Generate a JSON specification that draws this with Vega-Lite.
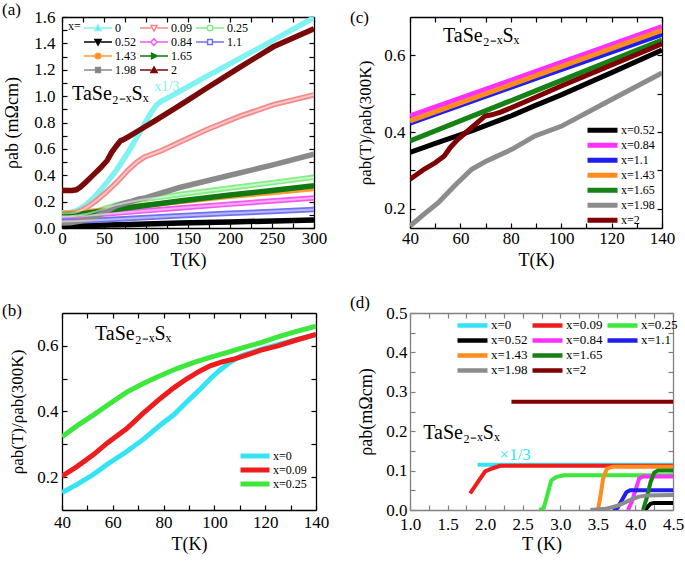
{
"$schema": "https://vega.github.io/schema/vega-lite/v6.json",
"padding": {"left": 2, "top": 1, "right": 2, "bottom": 2},
"background": "white",
"bounds": "flush",
"columns": 2,
"spacing": {"row": 85, "column": 94},
"resolve": {"scale": {"color": "independent"}, "legend": {"color": "independent"}},
"config": {
  "font": "Liberation Serif",
  "view": {"stroke": null},
  "axis": {"labelFont": "Liberation Serif", "titleFont": "Liberation Serif", "labelFontSize": 17, "titleFontSize": 18, "titleFontWeight": "normal", "labelColor": "#000", "titleColor": "#000", "domainColor": "#000", "tickColor": "#000", "domainWidth": 1.3, "tickWidth": 1.2, "tickSize": -5, "grid": false, "labelFlush": false, "labelOverlap": false, "labelBound": false, "zindex": 1},
  "legend": {"labelFont": "Liberation Serif", "labelColor": "#000", "titleFont": "Liberation Serif", "titleColor": "#000", "padding": 0, "offset": 0},
  "text": {"font": "Liberation Serif"},
  "title": {"font": "Liberation Serif", "fontWeight": "normal", "fontSize": 17, "color": "#000"}
},
"datasets": {
  "a": [
    {"s":"0","T":0,"r":0.115},{"s":"0","T":10,"r":0.118},{"s":"0","T":15,"r":0.125},{"s":"0","T":20,"r":0.14},{"s":"0","T":25,"r":0.16},{"s":"0","T":30,"r":0.185},{"s":"0","T":35,"r":0.213},{"s":"0","T":40,"r":0.245},{"s":"0","T":52,"r":0.333},{"s":"0","T":65.5,"r":0.445},{"s":"0","T":78.6,"r":0.573},{"s":"0","T":89,"r":0.685},{"s":"0","T":98.3,"r":0.79},{"s":"0","T":106,"r":0.875},{"s":"0","T":112,"r":0.93},{"s":"0","T":118,"r":0.96},{"s":"0","T":130,"r":1.0},{"s":"0","T":172,"r":1.15},{"s":"0","T":231.7,"r":1.355},{"s":"0","T":300,"r":1.595},
    {"s":"0.09","T":0,"r":0.112},{"s":"0.09","T":10,"r":0.113},{"s":"0.09","T":15,"r":0.115},{"s":"0.09","T":20,"r":0.125},{"s":"0.09","T":25,"r":0.14},{"s":"0.09","T":30,"r":0.158},{"s":"0.09","T":35,"r":0.18},{"s":"0.09","T":40,"r":0.203},{"s":"0.09","T":52,"r":0.268},{"s":"0.09","T":65.5,"r":0.348},{"s":"0.09","T":78.6,"r":0.439},{"s":"0.09","T":89,"r":0.499},{"s":"0.09","T":98.3,"r":0.539},{"s":"0.09","T":107,"r":0.559},{"s":"0.09","T":118,"r":0.586},{"s":"0.09","T":132,"r":0.627},{"s":"0.09","T":150,"r":0.68},{"s":"0.09","T":172,"r":0.745},{"s":"0.09","T":212,"r":0.848},{"s":"0.09","T":252,"r":0.935},{"s":"0.09","T":300,"r":1.01},
    {"s":"0.25","T":0,"r":0.088},{"s":"0.25","T":10,"r":0.09},{"s":"0.25","T":20,"r":0.097},{"s":"0.25","T":30,"r":0.108},{"s":"0.25","T":40,"r":0.124},{"s":"0.25","T":52,"r":0.15},{"s":"0.25","T":65.5,"r":0.177},{"s":"0.25","T":78.6,"r":0.196},{"s":"0.25","T":91.7,"r":0.211},{"s":"0.25","T":104.8,"r":0.223},{"s":"0.25","T":118,"r":0.234},{"s":"0.25","T":140,"r":0.254},{"s":"0.25","T":200,"r":0.303},{"s":"0.25","T":250,"r":0.344},{"s":"0.25","T":300,"r":0.385},
    {"s":"0.52","T":0,"r":0.018},{"s":"0.52","T":20,"r":0.019},{"s":"0.52","T":40,"r":0.021},{"s":"0.52","T":80,"r":0.027},{"s":"0.52","T":140,"r":0.037},{"s":"0.52","T":200,"r":0.046},{"s":"0.52","T":300,"r":0.06},
    {"s":"0.84","T":0,"r":0.085},{"s":"0.84","T":20,"r":0.09},{"s":"0.84","T":40,"r":0.0995},{"s":"0.84","T":90,"r":0.126},{"s":"0.84","T":140,"r":0.152},{"s":"0.84","T":200,"r":0.181},{"s":"0.84","T":250,"r":0.205},{"s":"0.84","T":300,"r":0.228},
    {"s":"1.1","T":0,"r":0.05},{"s":"1.1","T":20,"r":0.053},{"s":"1.1","T":40,"r":0.059},{"s":"1.1","T":90,"r":0.076},{"s":"1.1","T":140,"r":0.092},{"s":"1.1","T":200,"r":0.111},{"s":"1.1","T":250,"r":0.126},{"s":"1.1","T":300,"r":0.14},
    {"s":"1.43","T":0,"r":0.11},{"s":"1.43","T":20,"r":0.115},{"s":"1.43","T":40,"r":0.129},{"s":"1.43","T":90,"r":0.165},{"s":"1.43","T":140,"r":0.2},{"s":"1.43","T":200,"r":0.24},{"s":"1.43","T":250,"r":0.27},{"s":"1.43","T":300,"r":0.3},
    {"s":"1.65","T":0,"r":0.1},{"s":"1.65","T":20,"r":0.105},{"s":"1.65","T":40,"r":0.121},{"s":"1.65","T":90,"r":0.163},{"s":"1.65","T":140,"r":0.205},{"s":"1.65","T":200,"r":0.25},{"s":"1.65","T":250,"r":0.285},{"s":"1.65","T":300,"r":0.32},
    {"s":"1.98","T":0,"r":0.038},{"s":"1.98","T":10,"r":0.04},{"s":"1.98","T":20,"r":0.05},{"s":"1.98","T":30,"r":0.065},{"s":"1.98","T":40,"r":0.086},{"s":"1.98","T":51,"r":0.12},{"s":"1.98","T":64.5,"r":0.168},{"s":"1.98","T":70.4,"r":0.18},{"s":"1.98","T":80.4,"r":0.197},{"s":"1.98","T":89.6,"r":0.216},{"s":"1.98","T":100,"r":0.23},{"s":"1.98","T":140,"r":0.307},{"s":"1.98","T":200,"r":0.4},{"s":"1.98","T":250,"r":0.477},{"s":"1.98","T":300,"r":0.56},
    {"s":"2","T":0,"r":0.285},{"s":"2","T":12,"r":0.285},{"s":"2","T":17,"r":0.29},{"s":"2","T":22,"r":0.31},{"s":"2","T":27,"r":0.34},{"s":"2","T":32,"r":0.37},{"s":"2","T":36,"r":0.395},{"s":"2","T":40,"r":0.42},{"s":"2","T":45.6,"r":0.455},{"s":"2","T":53.6,"r":0.51},{"s":"2","T":59,"r":0.572},{"s":"2","T":64.5,"r":0.62},{"s":"2","T":69.8,"r":0.663},{"s":"2","T":72.4,"r":0.668},{"s":"2","T":80.4,"r":0.697},{"s":"2","T":92.9,"r":0.745},{"s":"2","T":110,"r":0.81},{"s":"2","T":132.5,"r":0.9},{"s":"2","T":150,"r":0.97},{"s":"2","T":172,"r":1.06},{"s":"2","T":212,"r":1.22},{"s":"2","T":251.6,"r":1.374},{"s":"2","T":300,"r":1.51}
  ],
  "b": [
    {"s":"x=0","T":40,"r":0.153},{"s":"x=0","T":46,"r":0.178},{"s":"x=0","T":52.3,"r":0.208},{"s":"x=0","T":58,"r":0.24},{"s":"x=0","T":65.5,"r":0.278},{"s":"x=0","T":72,"r":0.315},{"s":"x=0","T":78.6,"r":0.358},{"s":"x=0","T":84,"r":0.39},{"s":"x=0","T":89,"r":0.428},{"s":"x=0","T":94,"r":0.465},{"s":"x=0","T":98.3,"r":0.499},{"s":"x=0","T":102,"r":0.525},{"s":"x=0","T":106,"r":0.549},{"s":"x=0","T":109,"r":0.563},{"s":"x=0","T":111.4,"r":0.572},{"s":"x=0","T":120,"r":0.593},{"s":"x=0","T":130,"r":0.614},{"s":"x=0","T":140,"r":0.634},
    {"s":"x=0.09","T":40,"r":0.203},{"s":"x=0.09","T":46,"r":0.233},{"s":"x=0.09","T":52.3,"r":0.268},{"s":"x=0.09","T":58,"r":0.305},{"s":"x=0.09","T":65.5,"r":0.348},{"s":"x=0.09","T":72,"r":0.395},{"s":"x=0.09","T":78.6,"r":0.439},{"s":"x=0.09","T":84,"r":0.472},{"s":"x=0.09","T":89,"r":0.499},{"s":"x=0.09","T":94,"r":0.522},{"s":"x=0.09","T":98.3,"r":0.539},{"s":"x=0.09","T":103,"r":0.551},{"s":"x=0.09","T":107.4,"r":0.559},{"s":"x=0.09","T":112,"r":0.57},{"s":"x=0.09","T":118,"r":0.586},{"s":"x=0.09","T":125,"r":0.6},{"s":"x=0.09","T":132,"r":0.617},{"s":"x=0.09","T":140,"r":0.635},
    {"s":"x=0.25","T":40,"r":0.323},{"s":"x=0.25","T":46,"r":0.357},{"s":"x=0.25","T":52.3,"r":0.389},{"s":"x=0.25","T":58,"r":0.42},{"s":"x=0.25","T":65.5,"r":0.459},{"s":"x=0.25","T":72,"r":0.485},{"s":"x=0.25","T":78.6,"r":0.509},{"s":"x=0.25","T":85,"r":0.53},{"s":"x=0.25","T":91.7,"r":0.549},{"s":"x=0.25","T":98,"r":0.564},{"s":"x=0.25","T":104.8,"r":0.579},{"s":"x=0.25","T":111,"r":0.594},{"s":"x=0.25","T":118,"r":0.609},{"s":"x=0.25","T":125,"r":0.627},{"s":"x=0.25","T":132,"r":0.643},{"s":"x=0.25","T":140,"r":0.66}
  ],
  "c": [
    {"s":"x=0.52","T":40,"r":0.347},{"s":"x=0.52","T":51.2,"r":0.373},{"s":"x=0.52","T":64.5,"r":0.403},{"s":"x=0.52","T":80.4,"r":0.443},{"s":"x=0.52","T":89.6,"r":0.469},{"s":"x=0.52","T":100,"r":0.497},{"s":"x=0.52","T":120,"r":0.555},{"s":"x=0.52","T":140,"r":0.614},
    {"s":"x=0.84","T":40,"r":0.442},{"s":"x=0.84","T":90,"r":0.558},{"s":"x=0.84","T":140,"r":0.675},
    {"s":"x=1.1","T":40,"r":0.423},{"s":"x=1.1","T":90,"r":0.54},{"s":"x=1.1","T":140,"r":0.655},
    {"s":"x=1.43","T":40,"r":0.429},{"s":"x=1.43","T":90,"r":0.547},{"s":"x=1.43","T":140,"r":0.665},
    {"s":"x=1.65","T":40,"r":0.377},{"s":"x=1.65","T":90,"r":0.508},{"s":"x=1.65","T":140,"r":0.64},
    {"s":"x=1.98","T":40,"r":0.155},{"s":"x=1.98","T":45,"r":0.183},{"s":"x=1.98","T":51.2,"r":0.216},{"s":"x=1.98","T":58,"r":0.262},{"s":"x=1.98","T":64.5,"r":0.303},{"s":"x=1.98","T":70.4,"r":0.325},{"s":"x=1.98","T":80.4,"r":0.355},{"s":"x=1.98","T":89.6,"r":0.39},{"s":"x=1.98","T":100,"r":0.415},{"s":"x=1.98","T":120,"r":0.485},{"s":"x=1.98","T":140,"r":0.554},
    {"s":"x=2","T":40,"r":0.277},{"s":"x=2","T":45.6,"r":0.303},{"s":"x=2","T":50,"r":0.32},{"s":"x=2","T":53.6,"r":0.338},{"s":"x=2","T":56,"r":0.36},{"s":"x=2","T":59,"r":0.381},{"s":"x=2","T":64.5,"r":0.412},{"s":"x=2","T":69.8,"r":0.442},{"s":"x=2","T":72.4,"r":0.445},{"s":"x=2","T":76,"r":0.452},{"s":"x=2","T":80.4,"r":0.464},{"s":"x=2","T":89.6,"r":0.49},{"s":"x=2","T":100,"r":0.52},{"s":"x=2","T":120,"r":0.575},{"s":"x=2","T":140,"r":0.63}
  ],
  "d": [
    {"s":"x=0","T":1.9,"r":0.115},{"s":"x=0","T":4.5,"r":0.115},
    {"s":"x=0.09","T":1.8,"r":0.042},{"s":"x=0.09","T":1.9,"r":0.07},{"s":"x=0.09","T":2.0,"r":0.098},{"s":"x=0.09","T":2.1,"r":0.106},{"s":"x=0.09","T":2.2,"r":0.112},{"s":"x=0.09","T":4.5,"r":0.112},
    {"s":"x=0.25","T":2.72,"r":0.0},{"s":"x=0.25","T":2.78,"r":0.005},{"s":"x=0.25","T":2.83,"r":0.04},{"s":"x=0.25","T":2.88,"r":0.075},{"s":"x=0.25","T":2.95,"r":0.084},{"s":"x=0.25","T":3.05,"r":0.088},{"s":"x=0.25","T":4.5,"r":0.088},
    {"s":"x=0.52","T":4.1,"r":0.0},{"s":"x=0.52","T":4.15,"r":0.005},{"s":"x=0.52","T":4.2,"r":0.016},{"s":"x=0.52","T":4.25,"r":0.018},{"s":"x=0.52","T":4.5,"r":0.018},
    {"s":"x=0.84","T":3.9,"r":0.0},{"s":"x=0.84","T":3.95,"r":0.02},{"s":"x=0.84","T":4.0,"r":0.05},{"s":"x=0.84","T":4.05,"r":0.08},{"s":"x=0.84","T":4.1,"r":0.085},{"s":"x=0.84","T":4.5,"r":0.085},
    {"s":"x=1.1","T":3.7,"r":0.0},{"s":"x=1.1","T":3.76,"r":0.005},{"s":"x=1.1","T":3.82,"r":0.025},{"s":"x=1.1","T":3.88,"r":0.045},{"s":"x=1.1","T":3.93,"r":0.05},{"s":"x=1.1","T":4.5,"r":0.05},
    {"s":"x=1.43","T":3.45,"r":0.0},{"s":"x=1.43","T":3.5,"r":0.0},{"s":"x=1.43","T":3.53,"r":0.03},{"s":"x=1.43","T":3.57,"r":0.08},{"s":"x=1.43","T":3.62,"r":0.105},{"s":"x=1.43","T":3.7,"r":0.11},{"s":"x=1.43","T":4.5,"r":0.11},
    {"s":"x=1.65","T":4.1,"r":0.0},{"s":"x=1.65","T":4.15,"r":0.03},{"s":"x=1.65","T":4.2,"r":0.07},{"s":"x=1.65","T":4.25,"r":0.095},{"s":"x=1.65","T":4.3,"r":0.1},{"s":"x=1.65","T":4.5,"r":0.1},
    {"s":"x=1.98","T":3.4,"r":0.0},{"s":"x=1.98","T":3.6,"r":0.003},{"s":"x=1.98","T":3.75,"r":0.01},{"s":"x=1.98","T":3.85,"r":0.018},{"s":"x=1.98","T":3.95,"r":0.027},{"s":"x=1.98","T":4.05,"r":0.034},{"s":"x=1.98","T":4.15,"r":0.037},{"s":"x=1.98","T":4.5,"r":0.038},
    {"s":"x=2","T":2.35,"r":0.275},{"s":"x=2","T":4.5,"r":0.275}
  ]
},
"concat": [
  {
   "width": 252, "height": 211,
   "title": {"text": "(a)", "anchor": "start", "frame": "group", "dx": -60, "offset": -24, "baseline": "alphabetic"},
   "layer": [
    {"data": {"name": "a"},
     "mark": {"type": "line", "strokeWidth": 5.5, "clip": true},
     "encoding": {
      "x": {"field": "T", "type": "quantitative", "scale": {"domain": [0, 300], "nice": false, "zero": false},
            "axis": {"orient": "bottom", "title": "T(K)", "values": [0,25,50,75,100,125,150,175,200,225,250,275,300], "labelExpr": "datum.value % 50 == 0 ? datum.label : ''", "labelPadding": 7, "titlePadding": 5}},
      "y": {"field": "r", "type": "quantitative", "scale": {"domain": [0, 1.6], "nice": false, "zero": false},
            "axis": {"orient": "left", "title": "ρab (mΩcm)", "values": [0,0.1,0.2,0.3,0.4,0.5,0.6,0.7,0.8,0.9,1.0,1.1,1.2,1.3,1.4,1.5,1.6], "format": ".1f", "labelExpr": "round(datum.value*10) % 2 == 0 ? datum.label : ''", "labelPadding": 12, "titlePadding": 12}},
      "color": {"field": "s", "type": "nominal",
        "scale": {"domain": ["0","0.09","0.25","0.52","0.84","1.1","1.43","1.65"," ","1.98","2"], "range": ["#80F2F2","#F28A8A","#86EE86","#000000","#F05AF0","#7070F0","#FF9A3A","#107A10","transparent","#8A8A8A","#7A0A0A"]},
        "legend": {"orient": "none", "legendX": 6, "legendY": 4, "direction": "horizontal", "title": "x=", "titleOrient": "left", "titleAnchor": "start", "titleBaseline": "top", "titleFontSize": 12, "titleFontWeight": "normal", "titlePadding": 2,
          "columns": 3, "gridAlign": "none", "columnPadding": 3, "rowPadding": 0, "clipHeight": 14, "labelFontSize": 12, "labelOffset": 2, "symbolSize": 784, "symbolStrokeWidth": 1.5,
          "encoding": {"symbols": {
            "shape": {"value": {"signal": "['M-1,0H-0.2M0.2,0H1M0,-0.22L0.22,0.17L-0.22,0.17Z','M-1,0H-0.2M0.2,0H1M0,0.22L0.22,-0.17L-0.22,-0.17Z','M-1,0H-0.2M0.2,0H1M0.2,0A0.2,0.2,0,1,1,-0.2,0A0.2,0.2,0,1,1,0.2,0Z','M-1,0H-0.2M0.2,0H1M0,0.22L0.22,-0.17L-0.22,-0.17Z','M-1,0H-0.22M0.22,0H1M0,-0.24L0.22,0L0,0.24L-0.22,0Z','M-1,0H-0.17M0.17,0H1M-0.17,-0.17H0.17V0.17H-0.17Z','M-1,0H-0.2M0.2,0H1M0.2,0A0.2,0.2,0,1,1,-0.2,0A0.2,0.2,0,1,1,0.2,0Z','M-1,0H-0.17M0.22,0H1M0.22,0L-0.17,-0.2L-0.17,0.2Z','M-1,0H1','M-1,0H-0.17M0.17,0H1M-0.17,-0.17H0.17V0.17H-0.17Z','M-1,0H-0.2M0.2,0H1M0,-0.22L0.22,0.17L-0.22,0.17Z'][datum.index]"}},
            "fill": {"value": {"signal": "['#60F0F0','#ffffff','#ffffff','#000000','#ffffff','#ffffff','#FF8A1A','#108010','transparent','#808080','#800000'][datum.index]"}},
            "stroke": {"value": {"signal": "['#60F0F0','#FF2020','#22DD22','#000000','#FF22FF','#1010DD','#FF8A1A','#108010','transparent','#808080','#800000'][datum.index]"}},
            "strokeWidth": {"value": 1.5},
            "opacity": {"value": 1}
          }}
        }}
     }},
    {"data": {"name": "a"},
     "transform": [{"filter": {"field": "s", "oneOf": ["0.09","0.25","0.84","1.1"]}}],
     "mark": {"type": "line", "strokeWidth": 2, "color": "#ffffff", "opacity": 0.5, "clip": true},
     "encoding": {
      "x": {"field": "T", "type": "quantitative", "axis": {"orient": "top", "title": null, "labels": false, "values": [0,25,50,75,100,125,150,175,200,225,250,275,300]}},
      "y": {"field": "r", "type": "quantitative", "axis": {"orient": "right", "title": null, "labels": false, "values": [0,0.1,0.2,0.3,0.4,0.5,0.6,0.7,0.8,0.9,1.0,1.1,1.2,1.3,1.4,1.5,1.6]}},
      "detail": {"field": "s", "type": "nominal"}
     }},
    {"data": {"values": [{"T": 12, "r": 0.968, "t": "TaSe₂₋ₓSₓ"}]},
     "mark": {"type": "text", "align": "left", "baseline": "alphabetic", "fontSize": 20, "color": "#000"},
     "encoding": {"x": {"field": "T", "type": "quantitative", "axis": null}, "y": {"field": "r", "type": "quantitative", "axis": null}, "text": {"field": "t"}}},
    {"data": {"values": [{"T": 125, "r": 1.04, "t": "x1/3"}]},
     "mark": {"type": "text", "align": "center", "baseline": "alphabetic", "fontSize": 14, "color": "#7FEFEF"},
     "encoding": {"x": {"field": "T", "type": "quantitative", "axis": null}, "y": {"field": "r", "type": "quantitative", "axis": null}, "text": {"field": "t"}}}
   ],
   "resolve": {"axis": {"x": "independent", "y": "independent"}}
  },
  {
   "width": 252, "height": 211,
   "title": {"text": "(c)", "anchor": "start", "frame": "group", "dx": -60, "offset": -24, "baseline": "alphabetic"},
   "layer": [
    {"data": {"name": "c"},
     "mark": {"type": "line", "strokeWidth": 5, "clip": true},
     "encoding": {
      "x": {"field": "T", "type": "quantitative", "scale": {"domain": [40, 140], "nice": false, "zero": false},
            "axis": {"orient": "bottom", "title": "T(K)", "values": [40,50,60,70,80,90,100,110,120,130,140], "labelExpr": "datum.value % 20 == 0 ? datum.label : ''", "labelPadding": 7, "titlePadding": 5}},
      "y": {"field": "r", "type": "quantitative", "scale": {"domain": [0.15, 0.7], "nice": false, "zero": false},
            "axis": {"orient": "left", "title": "ρab(T)/ρab(300K)", "titleFontSize": 17, "values": [0.2,0.3,0.4,0.5,0.6], "format": ".1f", "labelExpr": "round(datum.value*10) % 2 == 0 ? datum.label : ''", "labelPadding": 10, "titlePadding": 9}},
      "color": {"field": "s", "type": "nominal",
        "scale": {"domain": ["x=0.52","x=0.84","x=1.1","x=1.43","x=1.65","x=1.98","x=2"], "range": ["#000000","#FF30FF","#1E1EEE","#FF8C1E","#148214","#8C8C8C","#7F0000"]},
        "legend": {"orient": "none", "legendX": 175, "legendY": 106, "title": null, "symbolType": "stroke", "symbolSize": 900, "symbolStrokeWidth": 5, "clipHeight": 14.5, "labelFontSize": 12, "labelOffset": 1, "rowPadding": 0}}
     }},
    {"data": {"name": "c"},
     "mark": {"type": "line", "opacity": 0, "clip": true},
     "encoding": {
      "x": {"field": "T", "type": "quantitative", "axis": {"orient": "top", "title": null, "labels": false, "values": [40,50,60,70,80,90,100,110,120,130,140]}},
      "y": {"field": "r", "type": "quantitative", "axis": {"orient": "right", "title": null, "labels": false, "values": [0.2,0.3,0.4,0.5,0.6]}},
      "detail": {"field": "s", "type": "nominal"}
     }},
    {"data": {"values": [{"T": 53.1, "r": 0.636, "t": "TaSe₂₋ₓSₓ"}]},
     "mark": {"type": "text", "align": "left", "baseline": "alphabetic", "fontSize": 20, "color": "#000"},
     "encoding": {"x": {"field": "T", "type": "quantitative", "axis": null}, "y": {"field": "r", "type": "quantitative", "axis": null}, "text": {"field": "t"}}}
   ],
   "resolve": {"axis": {"x": "independent", "y": "independent"}}
  },
  {
   "width": 254, "height": 197,
   "title": {"text": "(b)", "anchor": "start", "frame": "group", "dx": -60, "offset": -21, "baseline": "alphabetic"},
   "layer": [
    {"data": {"name": "b"},
     "mark": {"type": "line", "strokeWidth": 5, "clip": true},
     "encoding": {
      "x": {"field": "T", "type": "quantitative", "scale": {"domain": [40, 140], "nice": false, "zero": false},
            "axis": {"orient": "bottom", "title": "T(K)", "values": [40,50,60,70,80,90,100,110,120,130,140], "labelExpr": "datum.value % 20 == 0 ? datum.label : ''", "labelPadding": 9, "titlePadding": 5}},
      "y": {"field": "r", "type": "quantitative", "scale": {"domain": [0.1, 0.7], "nice": false, "zero": false},
            "axis": {"orient": "left", "title": "ρab(T)/ρab(300K)", "titleFontSize": 17, "values": [0.2,0.3,0.4,0.5,0.6], "format": ".1f", "labelExpr": "round(datum.value*10) % 2 == 0 ? datum.label : ''", "labelPadding": 9, "titlePadding": 10}},
      "color": {"field": "s", "type": "nominal",
        "scale": {"domain": ["x=0","x=0.09","x=0.25"], "range": ["#35E3F7","#EE1C1C","#3CE83C"]},
        "legend": {"orient": "none", "legendX": 176, "legendY": 136, "title": null, "symbolType": "stroke", "symbolSize": 841, "symbolStrokeWidth": 5, "clipHeight": 14, "labelFontSize": 12, "labelOffset": 1, "rowPadding": 0}}
     }},
    {"data": {"name": "b"},
     "mark": {"type": "line", "opacity": 0, "clip": true},
     "encoding": {
      "x": {"field": "T", "type": "quantitative", "axis": {"orient": "top", "title": null, "labels": false, "values": [40,50,60,70,80,90,100,110,120,130,140]}},
      "y": {"field": "r", "type": "quantitative", "axis": {"orient": "right", "title": null, "labels": false, "values": [0.2,0.3,0.4,0.5,0.6]}},
      "detail": {"field": "s", "type": "nominal"}
     }},
    {"data": {"values": [{"T": 53, "r": 0.619, "t": "TaSe₂₋ₓSₓ"}]},
     "mark": {"type": "text", "align": "left", "baseline": "alphabetic", "fontSize": 20, "color": "#000"},
     "encoding": {"x": {"field": "T", "type": "quantitative", "axis": null}, "y": {"field": "r", "type": "quantitative", "axis": null}, "text": {"field": "t"}}}
   ],
   "resolve": {"axis": {"x": "independent", "y": "independent"}}
  },
  {
   "width": 263, "height": 197,
   "title": {"text": "(d)", "anchor": "start", "frame": "group", "dx": -60, "offset": -21, "baseline": "alphabetic"},
   "layer": [
    {"data": {"name": "d"},
     "mark": {"type": "line", "strokeWidth": 4, "clip": true},
     "encoding": {
      "x": {"field": "T", "type": "quantitative", "scale": {"domain": [1, 4.5], "nice": false, "zero": false},
            "axis": {"orient": "bottom", "title": "T (K)", "values": [1,1.25,1.5,1.75,2,2.25,2.5,2.75,3,3.25,3.5,3.75,4,4.25,4.5], "format": ".1f", "labelExpr": "round(datum.value*100) % 50 == 0 ? datum.label : ''", "labelPadding": 11, "titlePadding": 3, "domainColor": "#808080", "tickColor": "#808080"}},
      "y": {"field": "r", "type": "quantitative", "scale": {"domain": [0, 0.5], "nice": false, "zero": false},
            "axis": {"orient": "left", "title": "ρab(mΩcm)", "values": [0,0.05,0.1,0.15,0.2,0.25,0.3,0.35,0.4,0.45,0.5], "format": ".1f", "labelExpr": "round(datum.value*100) % 10 == 0 ? datum.label : ''", "labelPadding": 8, "titlePadding": 10, "domainColor": "#808080", "tickColor": "#808080"}},
      "color": {"field": "s", "type": "nominal",
        "scale": {"domain": ["x=0","x=0.09","x=0.25","x=0.52","x=0.84","x=1.1","x=1.43","x=1.65"," ","x=1.98","x=2"], "range": ["#35E3F7","#EE1C1C","#3CE83C","#000000","#FF30FF","#1E1EEE","#FF8C1E","#148214","transparent","#8C8C8C","#7F0000"]},
        "legend": {"orient": "none", "legendX": 45, "legendY": 5, "direction": "horizontal", "title": null, "columns": 3, "gridAlign": "none", "columnPadding": 2, "symbolType": "stroke", "symbolSize": 900, "symbolStrokeWidth": 4.5, "clipHeight": 14.8, "labelFontSize": 13, "labelOffset": 1, "rowPadding": 0}}
     }},
    {"data": {"name": "d"},
     "mark": {"type": "line", "opacity": 0, "clip": true},
     "encoding": {
      "x": {"field": "T", "type": "quantitative", "axis": {"orient": "top", "title": null, "labels": false, "values": [1,1.25,1.5,1.75,2,2.25,2.5,2.75,3,3.25,3.5,3.75,4,4.25,4.5], "domainColor": "#808080", "tickColor": "#808080"}},
      "y": {"field": "r", "type": "quantitative", "axis": {"orient": "right", "title": null, "labels": false, "values": [0,0.05,0.1,0.15,0.2,0.25,0.3,0.35,0.4,0.45,0.5], "domainColor": "#808080", "tickColor": "#808080"}},
      "detail": {"field": "s", "type": "nominal"}
     }},
    {"data": {"values": [{"T": 1.177, "r": 0.18, "t": "TaSe₂₋ₓSₓ"}]},
     "mark": {"type": "text", "align": "left", "baseline": "alphabetic", "fontSize": 20, "color": "#000"},
     "encoding": {"x": {"field": "T", "type": "quantitative", "axis": null}, "y": {"field": "r", "type": "quantitative", "axis": null}, "text": {"field": "t"}}},
    {"data": {"values": [{"T": 2.4, "r": 0.126, "t": "×1/3"}]},
     "mark": {"type": "text", "align": "center", "baseline": "alphabetic", "fontSize": 17, "color": "#35E3F7"},
     "encoding": {"x": {"field": "T", "type": "quantitative", "axis": null}, "y": {"field": "r", "type": "quantitative", "axis": null}, "text": {"field": "t"}}}
   ],
   "resolve": {"axis": {"x": "independent", "y": "independent"}}
  }
]
}
